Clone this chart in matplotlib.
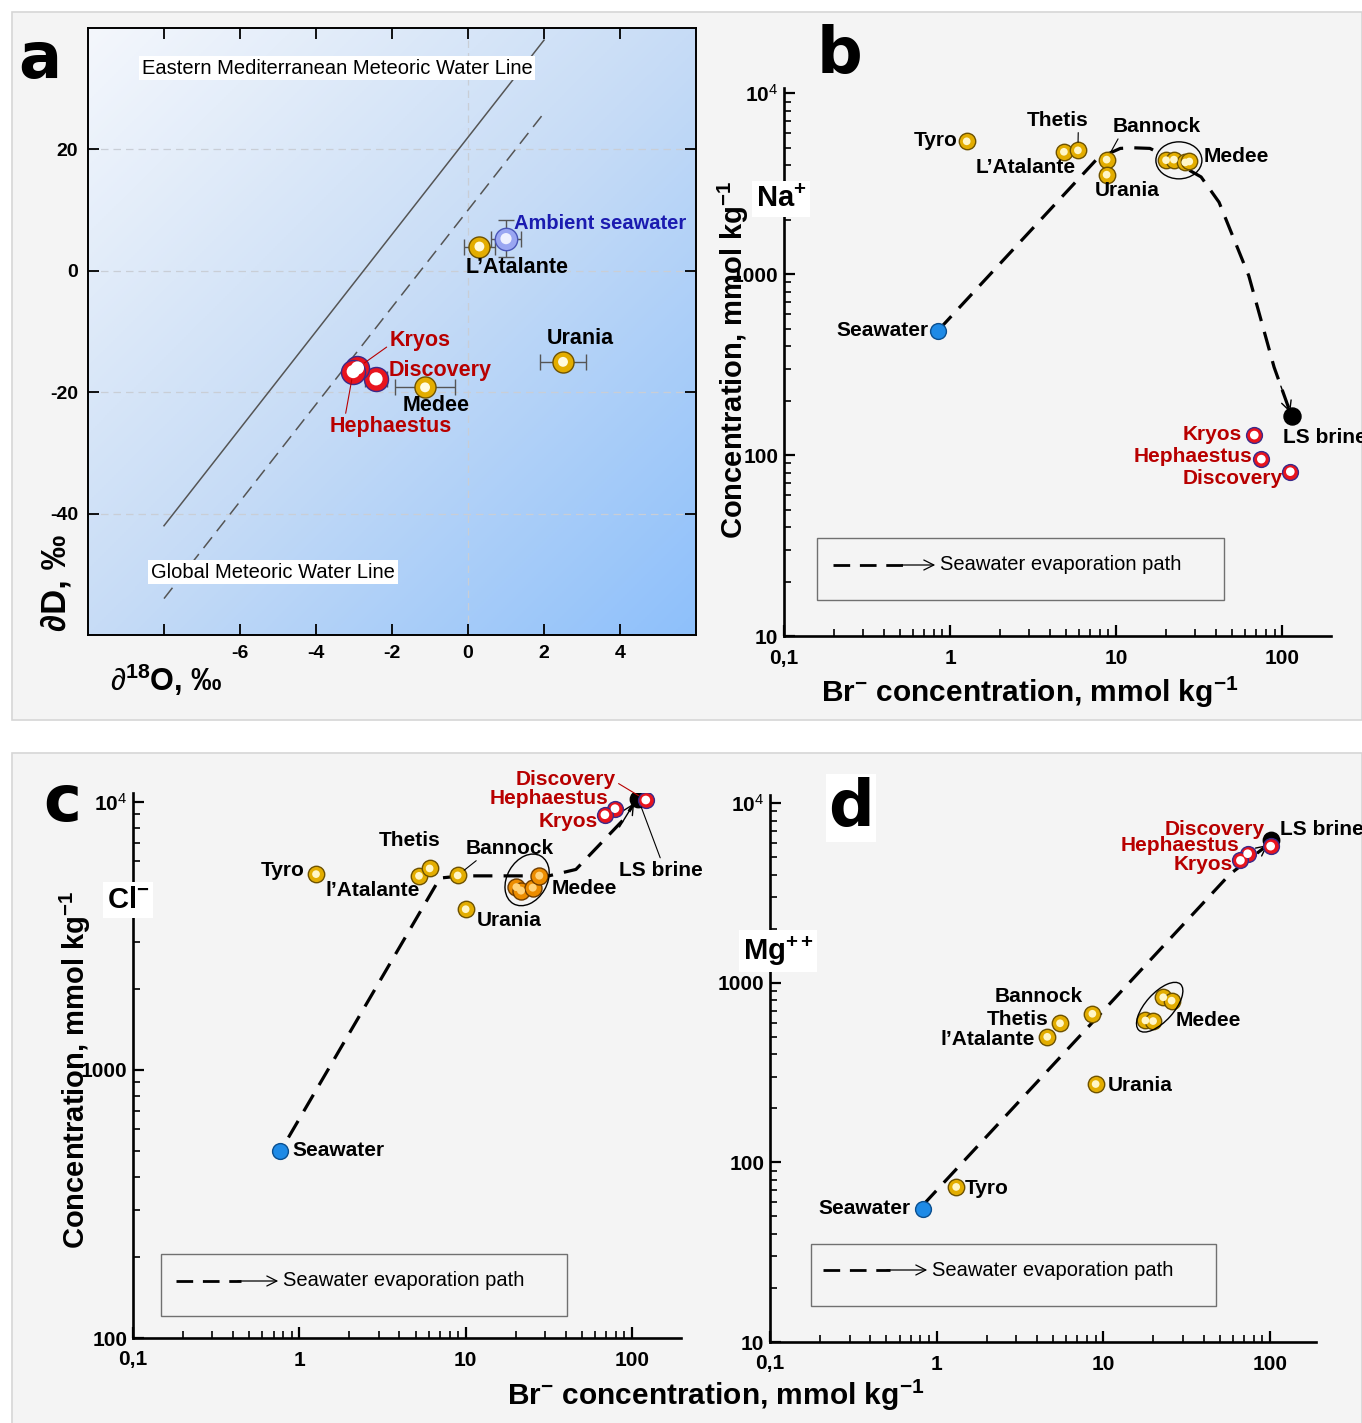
import matplotlib
matplotlib.use('Agg')
import matplotlib.pyplot as plt
import numpy as np
from matplotlib.patches import Rectangle, Ellipse, FancyArrowPatch
from matplotlib.lines import Line2D
from matplotlib.transforms import ScaledTranslation
from matplotlib.colors import LinearSegmentedColormap
from matplotlib.ticker import NullFormatter

plt.rcParams['font.family'] = ['Liberation Sans', 'DejaVu Sans']
plt.rcParams['mathtext.fontset'] = 'custom'
plt.rcParams['mathtext.rm'] = 'Liberation Sans'
plt.rcParams['mathtext.bf'] = 'Liberation Sans:bold'
plt.rcParams['mathtext.it'] = 'Liberation Sans:italic'

# ---- panel a : stable isotopes
a_sites = ['Ambient seawater', 'L’Atalante', 'Urania', 'Medee', 'Discovery', 'Kryos', 'Hephaestus']
a_d18o = [1.0, 0.3, 2.5, -1.13, -2.42, -2.91, -3.02]
a_dD = [5.3, 4.0, -15.0, -19.2, -17.8, -16.0, -16.6]
a_d18o_err = [0.4, 0.4, 0.6, 0.8, 0.28, 0.0, 0.0]
a_dD_err = [3.0, 0.0, 0.0, 0.0, 0.0, 0.0, 0.0]
mwl_d18o = [-8, 2]
gmwl_dD = [-54, 26]
emmwl_dD = [-42, 38]

# ---- panel b : Na+ vs Br-
b_gold_names = ['Tyro', 'L’Atalante', 'Thetis', 'Bannock', 'Urania']
b_gold_br = [1.26, 4.85, 5.89, 8.77, 8.77]
b_gold_na = [5430, 4750, 4840, 4300, 3550]
b_medee_br = [20.0, 22.3, 26.1, 27.6]
b_medee_na = [4270, 4300, 4150, 4200]
b_red_names = ['Kryos', 'Hephaestus', 'Discovery']
b_red_br = [68, 75, 112]
b_red_na = [129, 95, 81]
b_sw_br, b_sw_na = 0.85, 487
b_ls_br, b_ls_na = 115, 165
b_path_br = [0.85, 7.7, 10.6, 12.6, 16.0, 18.4, 32.5, 41.7, 63, 89.5, 112]
b_path_na = [490, 4350, 4960, 5000, 4960, 4650, 3450, 2500, 980, 306, 172]

# ---- panel c : Cl- vs Br-
c_gold_names = ['Tyro', 'l’Atalante', 'Thetis', 'Bannock', 'Urania']
c_gold_br = [1.26, 5.24, 6.07, 8.95, 10.0]
c_gold_cl = [5380, 5300, 5650, 5320, 3980]
c_medee_br = [20.2, 21.5, 25.3, 27.7]
c_medee_cl = [4810, 4670, 4790, 5310]
c_red_names = ['Discovery', 'Hephaestus', 'Kryos']
c_red_br = [121, 79, 68.7]
c_red_cl = [10170, 9440, 8960]
c_sw_br, c_sw_cl = 0.77, 500
c_ls_br, c_ls_cl = 109, 10250
c_path_br = [0.86, 7.0, 9.5, 31.6, 46, 90.6, 103]
c_path_cl = [560, 5200, 5300, 5300, 5600, 8700, 9900]

# ---- panel d : Mg++ vs Br-
d_gold_names = ['Tyro', 'l’Atalante', 'Thetis', 'Bannock', 'Urania']
d_gold_br = [1.31, 4.61, 5.5, 8.6, 9.0]
d_gold_mg = [73, 500, 595, 672, 273]
d_medee_br = [17.9, 19.9, 22.9, 25.7]
d_medee_mg = [617, 612, 830, 795]
d_red_names = ['Discovery', 'Hephaestus', 'Kryos']
d_red_br = [101, 73.5, 66.5]
d_red_mg = [5760, 5230, 4800]
d_sw_br, d_sw_mg = 0.83, 55
d_ls_br, d_ls_mg = 101, 6260
d_path_br = [0.83, 57.5, 97]
d_path_mg = [58, 4020, 5850]

W, H = 1362, 1423
fig = plt.figure(figsize=(W / 100, H / 100), dpi=100)
fig.patch.set_facecolor('white')

RED = '#b80000'
GOLD, GOLD_E = '#e3ad00', '#6e5200'
LS = 15          # point label size in b-d


def box(x0, y0, x1, y1):
    return [x0 / W, 1 - y1 / H, (x1 - x0) / W, (y1 - y0) / H]


def ftext(x, y, s, **kw):
    return fig.text(x / W, 1 - y / H, s, **kw)


def ball(ax, x, y, fc, ec, s, hl='white', hs=0.2, z=5):
    ax.scatter(x, y, s=s, c=fc, edgecolors=ec, linewidths=1.0, zorder=z)
    if hl:
        ax.scatter(x, y, s=s * hs, c=hl, edgecolors='none', zorder=z + 0.1)


def lab(ax, x, y, s, dx, dy, ha='left', color='k', size=LS, line=None, lc=None):
    kw = {}
    if line is not None:
        kw['arrowprops'] = dict(arrowstyle='-', color=lc or color, lw=0.8,
                                shrinkA=0, shrinkB=6, relpos=line)
    ax.annotate(s, (x, y), xytext=(dx, dy), textcoords='offset pixels',
                ha=ha, va='center', color=color, fontsize=size,
                fontweight='bold', zorder=8, **kw)


def ring(ax, x, y, w, h, ang):
    tr = fig.dpi_scale_trans + ScaledTranslation(x, y, ax.transData)
    ax.add_patch(Ellipse((0, 0), w / 100, h / 100, angle=ang, transform=tr,
                         fill=False, ec='k', lw=1.0, zorder=7))


def path(ax, xs, ys):
    ax.plot(xs, ys, color='k', lw=2.3, ls=(0, (6, 3.5)), zorder=3)
    p0 = ax.transData.transform((xs[-2], ys[-2]))
    p1 = ax.transData.transform((xs[-1], ys[-1]))
    u = (p1 - p0) / np.hypot(*(p1 - p0))
    ax.annotate('', (xs[-1], ys[-1]), xytext=(-u[0] * 28, -u[1] * 28),
                textcoords='offset pixels',
                arrowprops=dict(arrowstyle='->', lw=1.0, color='k',
                                mutation_scale=18, shrinkA=0, shrinkB=0),
                zorder=4)


def key(x0, y0, x1, y1, lx0, lx1, tx, ty):
    fig.add_artist(Rectangle((x0 / W, 1 - y1 / H), (x1 - x0) / W, (y1 - y0) / H,
                             transform=fig.transFigure, fill=False,
                             ec='#707070', lw=1.0))
    fig.add_artist(Line2D([lx0 / W, lx1 / W], [1 - ty / H] * 2,
                          transform=fig.transFigure, color='k', lw=2.0,
                          ls=(0, (6, 3.5))))
    fig.add_artist(FancyArrowPatch(((lx1 - 6) / W, 1 - ty / H), ((tx - 2) / W, 1 - ty / H),
                                   transform=fig.transFigure, arrowstyle='->',
                                   mutation_scale=18, lw=0.9, color='k'))
    ftext(tx, ty, 'Seawater evaporation path', va='center', ha='left', fontsize=14.5)


def log_axes(rect, ylim, xmax, yticks, ylabels):
    ax = fig.add_axes(box(*rect))
    ax.set_xscale('log')
    ax.set_yscale('log')
    ax.set_xlim(0.1, xmax)
    ax.set_ylim(*ylim)
    ax.patch.set_alpha(0)
    for s in ['top', 'right']:
        ax.spines[s].set_visible(False)
    for s in ['left', 'bottom']:
        ax.spines[s].set_linewidth(1.9)
    ax.set_xticks([0.1, 1, 10, 100])
    ax.set_xticklabels(['0,1', '1', '10', '100'])
    ax.set_yticks(yticks)
    ax.set_yticklabels(ylabels)
    ax.xaxis.set_minor_formatter(NullFormatter())
    ax.yaxis.set_minor_formatter(NullFormatter())
    ax.tick_params(which='major', direction='in', length=8, width=1.6,
                   labelsize=15, pad=4)
    ax.tick_params(axis='x', which='major', pad=9)
    ax.tick_params(which='minor', direction='in', length=5, width=1.2)
    for t in ax.get_xticklabels() + ax.get_yticklabels():
        t.set_fontweight('bold')
    return ax


# panel backgrounds
for y0, y1 in [(12, 720), (753, 1430)]:
    fig.add_artist(Rectangle((12 / W, 1 - y1 / H), (W - 12) / W, (y1 - y0) / H,
                             transform=fig.transFigure, fc='#f4f4f4',
                             ec='#d6d6d6', lw=1.2, zorder=-10))

# =========================== a
ax = fig.add_axes(box(88, 28, 696, 635))
ax.set_xlim(-10, 6)
ax.set_ylim(-60, 40)
g = np.linspace(0, 1, 300)
gx, gy = np.meshgrid(g, g)
cmap = LinearSegmentedColormap.from_list('bg', ['#f4f7fc', '#c7dcf6', '#8ec0fb'])
ax.imshow((gx + gy) / 2, extent=[-10, 6, -60, 40], aspect='auto', cmap=cmap,
          origin='upper', zorder=0, vmin=0, vmax=1)
ax.axvline(0, color='#c9ced6', lw=0.9, ls=(0, (6, 4)), zorder=1)
for yv in [-40, -20, 0, 20]:
    ax.axhline(yv, color='#c9ced6', lw=0.9, ls=(0, (6, 4)), zorder=1)
ax.plot(mwl_d18o, emmwl_dD, color='#555555', lw=1.1, zorder=2)
ax.plot(mwl_d18o, gmwl_dD, color='#555555', lw=1.1, ls=(0, (9, 5)), zorder=2)
for x, y, ex, ey in zip(a_d18o, a_dD, a_d18o_err, a_dD_err):
    if ex > 0:
        ax.errorbar(x, y, xerr=ex, fmt='none', ecolor='#555555', elinewidth=1,
                    capsize=6, capthick=1, zorder=3)
    if ey > 0:
        ax.errorbar(x, y, yerr=ey, fmt='none', ecolor='#555555', elinewidth=1,
                    capsize=6, capthick=1, zorder=3)
ball(ax, a_d18o[0], a_dD[0], '#9aa6f2', '#4a56b8', 260, hl='#eef0ff', hs=0.25)
ball(ax, a_d18o[1:4], a_dD[1:4], GOLD, GOLD_E, 230, hl='#fffbe0', hs=0.22)
ball(ax, a_d18o[4:], a_dD[4:], '#e8141e', '#3a2a8a', 300, hl='white', hs=0.3)
lab(ax, a_d18o[0], a_dD[0], a_sites[0], 8, 15, color='#1b1bb0', size=14.5)
lab(ax, a_d18o[1], a_dD[1], a_sites[1], 38, -21, ha='center', size=15.5)
lab(ax, a_d18o[2], a_dD[2], a_sites[2], 17, 23, ha='center', size=15.5)
lab(ax, a_d18o[3], a_dD[3], a_sites[3], 11, -18, ha='center', size=15.5)
lab(ax, a_d18o[4], a_dD[4], a_sites[4], 13, 8, color=RED, size=15.5)
lab(ax, a_d18o[5], a_dD[5], a_sites[5], 32, 27, color=RED, size=15.5, line=(0.0, 0.3))
lab(ax, a_d18o[6], a_dD[6], a_sites[6], 38, -55, ha='center', color=RED, size=15.5,
    line=(0.12, 0.9))
ax.set_xticks([-8, -6, -4, -2, 0, 2, 4])
ax.set_xticklabels(['', '-6', '-4', '-2', '0', '2', '4'])
ax.set_yticks([-40, -20, 0, 20])
ax.set_yticklabels(['-40', '-20', '0', '20'])
ax.tick_params(direction='in', length=8, width=1.3, top=True, right=True,
               labelsize=14, pad=7)
for t in ax.get_xticklabels() + ax.get_yticklabels():
    t.set_fontweight('bold')
for s in ax.spines.values():
    s.set_linewidth(1.4)
ftext(337, 68, 'Eastern Mediterranean Meteoric Water Line', ha='center', va='center',
      fontsize=14.5, bbox=dict(fc='white', ec='none', pad=2))
ftext(273, 572, 'Global Meteoric Water Line', ha='center', va='center',
      fontsize=14.5, bbox=dict(fc='white', ec='none', pad=2))
ftext(56, 583, '∂D, ‰', rotation=90, ha='center', va='center', fontsize=25,
      fontweight='bold')
ftext(166, 680, r'$\partial^{\mathbf{18}}$O, ‰', ha='center', va='center',
      fontsize=22, fontweight='bold')
ftext(40, 60, 'a', ha='center', va='center', fontsize=46, fontweight='heavy',
      family='DejaVu Sans')

# =========================== b
ax = log_axes((784, 88, 1331, 636), (10, 1.07e4), 197,
              [10, 100, 1000, 1e4], ['10', '100', '1000', '10$^4$'])
path(ax, b_path_br, b_path_na)
ball(ax, b_gold_br, b_gold_na, GOLD, GOLD_E, 140, hl='#fff6c8', hs=0.22)
ball(ax, b_medee_br, b_medee_na, GOLD, GOLD_E, 140, hl='#fff6c8', hs=0.22)
ball(ax, b_red_br, b_red_na, '#e8141e', '#3a2a8a', 130, hl='white', hs=0.3)
ball(ax, b_sw_br, b_sw_na, '#1e8ae6', '#0b4f8f', 130, hl=None)
ball(ax, b_ls_br, b_ls_na, 'k', 'k', 150, hl=None)
ring(ax, 23.9, 4260, 46, 37, 0)
lab(ax, 23.9, 4260, 'Medee', 25, 4)
lab(ax, b_gold_br[0], b_gold_na[0], b_gold_names[0], -9, 1, ha='right')
lab(ax, b_gold_br[1], b_gold_na[1], b_gold_names[1], -38, -16, ha='center')
lab(ax, b_gold_br[2], b_gold_na[2], b_gold_names[2], -20, 30, ha='center',
    line=(0.83, 0.0))
lab(ax, b_gold_br[3], b_gold_na[3], b_gold_names[3], 50, 33, ha='center',
    line=(0.08, 0.0))
lab(ax, b_gold_br[4], b_gold_na[4], b_gold_names[4], 21, -16, ha='center')
lab(ax, b_sw_br, b_sw_na, 'Seawater', -10, 0, ha='right')
lab(ax, b_ls_br, b_ls_na, 'LS brine', -9, -22)
lab(ax, b_red_br[0], b_red_na[0], b_red_names[0], -12, 1, ha='right', color=RED)
lab(ax, b_red_br[1], b_red_na[1], b_red_names[1], -9, 3, ha='right', color=RED)
lab(ax, b_red_br[2], b_red_na[2], b_red_names[2], -8, -7, ha='right', color=RED)
key(817, 538, 1224, 600, 833, 905, 940, 565)
ftext(781, 199, 'Na$^{\\mathbf{+}}$', ha='center', va='center', fontsize=21,
      fontweight='bold', bbox=dict(fc='white', ec='none', pad=3))
ftext(733, 360, 'Concentration, mmol kg$^{\\mathbf{-1}}$', rotation=90, ha='center',
      va='center', fontsize=21, fontweight='bold')
ftext(1030, 692, 'Br$^{\\mathbf{-}}$ concentration, mmol kg$^{\\mathbf{-1}}$',
      ha='center', va='center', fontsize=21.5, fontweight='bold')
ftext(840, 55, 'b', ha='center', va='center', fontsize=46, fontweight='heavy',
      family='DejaVu Sans')

# =========================== c
ax = log_axes((133, 793, 681, 1338), (100, 1.08e4), 197,
              [100, 1000, 1e4], ['100', '1000', '10$^4$'])
path(ax, c_path_br, c_path_cl)
ball(ax, c_gold_br, c_gold_cl, GOLD, GOLD_E, 140, hl='#fff6c8', hs=0.22)
ball(ax, c_medee_br, c_medee_cl, '#ec8c00', '#6e3c00', 150, hl='#ffd27a', hs=0.22)
ball(ax, c_sw_br, c_sw_cl, '#1e8ae6', '#0b4f8f', 130, hl=None)
ball(ax, c_ls_br, c_ls_cl, 'k', 'k', 140, hl=None)
ball(ax, c_red_br, c_red_cl, '#e8141e', '#3a2a8a', 130, hl='white', hs=0.3)
ring(ax, 23.4, 5120, 55, 40, 60)
lab(ax, 23.4, 5120, 'Medee', 25, -9)
lab(ax, c_gold_br[0], c_gold_cl[0], c_gold_names[0], -11, 4, ha='right')
lab(ax, c_gold_br[1], c_gold_cl[1], c_gold_names[1], -46, -15, ha='center')
lab(ax, c_gold_br[2], c_gold_cl[2], c_gold_names[2], -20, 28, ha='center')
lab(ax, c_gold_br[3], c_gold_cl[3], c_gold_names[3], 52, 27, ha='center',
    line=(0.16, 0.0))
lab(ax, c_gold_br[4], c_gold_cl[4], c_gold_names[4], 44, -11, ha='center')
lab(ax, c_sw_br, c_sw_cl, 'Seawater', 12, 0)
lab(ax, c_ls_br, c_ls_cl, 'LS brine', 23, -71, ha='center', line=(0.5, 1.0))
lab(ax, c_red_br[0], c_red_cl[0], c_red_names[0], -30, 20, ha='right', color=RED,
    line=(1.0, 0.4))
lab(ax, c_red_br[1], c_red_cl[1], c_red_names[1], -7, 10, ha='right', color=RED)
lab(ax, c_red_br[2], c_red_cl[2], c_red_names[2], -7, -7, ha='right', color=RED)
key(161, 1254, 567, 1316, 176, 241, 283, 1281)
ftext(128, 900, 'Cl$^{\\mathbf{-}}$', ha='center', va='center', fontsize=21,
      fontweight='bold', bbox=dict(fc='white', ec='none', pad=3))
ftext(75, 1070, 'Concentration, mmol kg$^{\\mathbf{-1}}$', rotation=90, ha='center',
      va='center', fontsize=21, fontweight='bold')
ftext(716, 1395, 'Br$^{\\mathbf{-}}$ concentration, mmol kg$^{\\mathbf{-1}}$',
      ha='center', va='center', fontsize=21.5, fontweight='bold')
ftext(62, 803, 'c', ha='center', va='center', fontsize=46, fontweight='heavy',
      family='DejaVu Sans')

# =========================== d
ax = log_axes((770, 795, 1316, 1342), (10, 1.11e4), 189,
              [10, 100, 1000, 1e4], ['10', '100', '1000', '10$^4$'])
path(ax, d_path_br, d_path_mg)
ball(ax, d_gold_br, d_gold_mg, GOLD, GOLD_E, 140, hl='#fff6c8', hs=0.22)
ball(ax, d_medee_br, d_medee_mg, GOLD, GOLD_E, 140, hl='#fff6c8', hs=0.22)
ball(ax, d_sw_br, d_sw_mg, '#1e8ae6', '#0b4f8f', 130, hl=None)
ball(ax, d_ls_br, d_ls_mg, 'k', 'k', 140, hl=None)
ball(ax, d_red_br, d_red_mg, '#e8141e', '#3a2a8a', 130, hl='white', hs=0.3)
ring(ax, 21.8, 731, 62, 28, 48)
lab(ax, 21.8, 731, 'Medee', 16, -13)
lab(ax, d_gold_br[0], d_gold_mg[0], d_gold_names[0], 9, -2)
lab(ax, d_gold_br[1], d_gold_mg[1], d_gold_names[1], -12, -3, ha='right')
lab(ax, d_gold_br[2], d_gold_mg[2], d_gold_names[2], -12, 4, ha='right')
lab(ax, d_gold_br[3], d_gold_mg[3], d_gold_names[3], -10, 17, ha='right')
lab(ax, d_gold_br[4], d_gold_mg[4], d_gold_names[4], 12, -1)
lab(ax, d_sw_br, d_sw_mg, 'Seawater', -13, 1, ha='right')
lab(ax, d_ls_br, d_ls_mg, 'LS brine', 9, 10)
lab(ax, d_red_br[0], d_red_mg[0], d_red_names[0], -6, 17, ha='right', color=RED)
lab(ax, d_red_br[1], d_red_mg[1], d_red_names[1], -8, 8, ha='right', color=RED)
lab(ax, d_red_br[2], d_red_mg[2], d_red_names[2], -8, -4, ha='right', color=RED)
key(811, 1244, 1216, 1306, 823, 890, 932, 1270)
ftext(778, 951, 'Mg$^{\\mathbf{++}}$', ha='center', va='center', fontsize=21,
      fontweight='bold', bbox=dict(fc='white', ec='none', pad=3))
ftext(851, 808, 'd', ha='center', va='center', fontsize=46, fontweight='heavy',
      family='DejaVu Sans', bbox=dict(fc='white', ec='none', pad=2))

fig.savefig('out.png', dpi=100)
